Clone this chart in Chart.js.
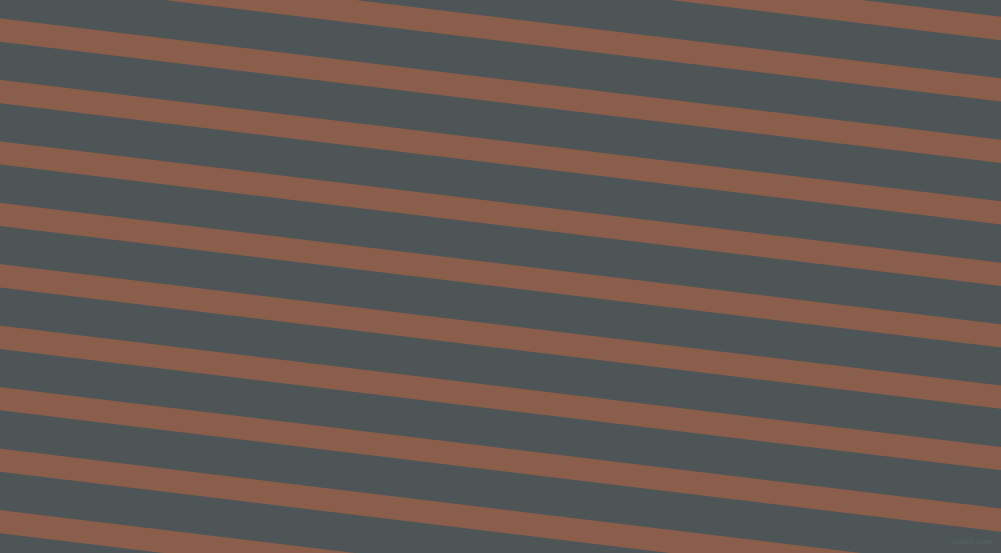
<!DOCTYPE html>
<html>
<head>
<meta charset="utf-8">
<script src="https://cdn.jsdelivr.net/npm/chart.js@4/dist/chart.umd.min.js"></script>
<style>
  html, body { margin: 0; padding: 0; background: #4d5556; overflow: hidden; }
  #stripes { display: block; }
</style>
</head>
<body>
<canvas id="stripes" width="1001" height="553"></canvas>
<script>
// stripe centre lines: y at the left edge and at the right edge
const stripeLeftY  = [-92.9, -31.5, 30.0, 91.5, 152.9, 214.4, 275.8, 337.3, 398.7, 460.2, 521.6];
const stripeRightY = [28.5, 89.9, 151.4, 212.9, 274.3, 335.8, 397.2, 458.7, 520.1, 581.6, 643.0];
const edgeX = [0, 1001];

const stripeColor = '#8a5e4a';

const datasets = stripeLeftY.map((y0, i) => ({
  data: [{ x: edgeX[0], y: y0 }, { x: edgeX[1], y: stripeRightY[i] }],
  showLine: true,
  borderColor: stripeColor,
  borderWidth: 23.1,
  borderCapStyle: 'square',
  pointRadius: 0,
  fill: false,
}));

// little watermark in the lower right corner
const watermark = {
  id: 'watermark',
  afterDraw(chart) {
    const ctx = chart.ctx;
    ctx.save();
    ctx.font = 'bold 8px "Liberation Sans", sans-serif';
    ctx.fillStyle = '#566061';
    ctx.textAlign = 'left';
    ctx.textBaseline = 'middle';
    ctx.fillText('pixlis.com', 953, 542);
    ctx.restore();
  }
};

new Chart(document.getElementById('stripes'), {
  type: 'scatter',
  data: { datasets },
  options: {
    responsive: false,
    animation: false,
    devicePixelRatio: 1,
    layout: { padding: 0 },
    plugins: { legend: { display: false }, tooltip: { enabled: false } },
    scales: {
      x: { type: 'linear', min: 0, max: 1001, display: false },
      y: { type: 'linear', min: 0, max: 553, reverse: true, display: false }
    }
  },
  plugins: [watermark]
});
</script>
</body>
</html>
